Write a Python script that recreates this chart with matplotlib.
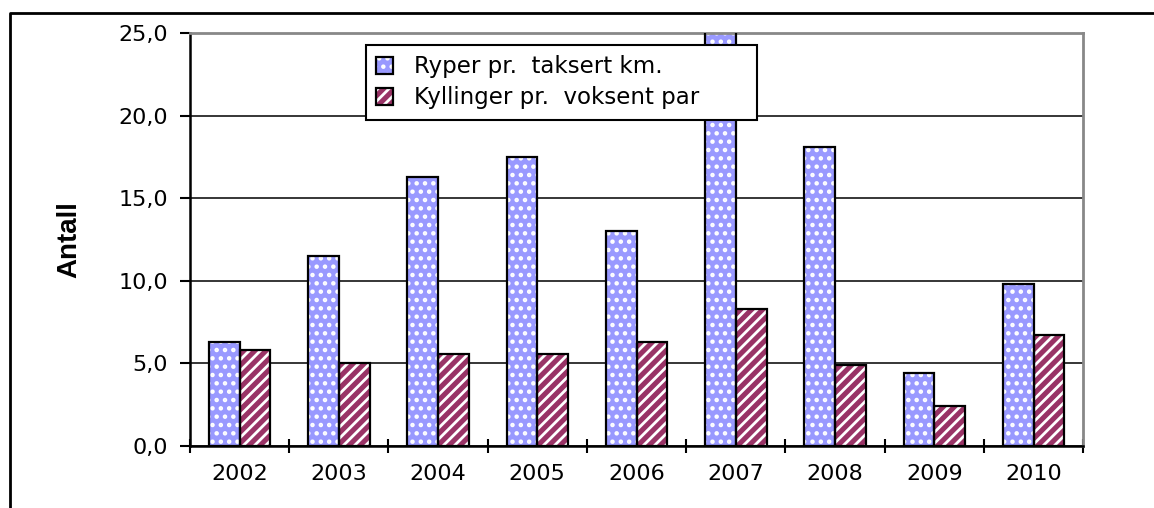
import matplotlib.pyplot as plt
import numpy as np
from matplotlib.lines import Line2D

# data
years = ['2002', '2003', '2004', '2005', '2006', '2007', '2008', '2009', '2010']
ryper = [6.3, 11.5, 16.3, 17.5, 13.0, 26.0, 18.1, 4.4, 9.8]
kyllinger = [5.8, 5.0, 5.6, 5.6, 6.3, 8.3, 4.9, 2.4, 6.7]
yticks = [0, 5, 10, 15, 20, 25]
ytick_labels = ['0,0', '5,0', '10,0', '15,0', '20,0', '25,0']
labels = ['Ryper pr.  taksert km.', 'Kyllinger pr.  voksent par']

plt.rcParams['font.family'] = ['DejaVu Sans']
plt.rcParams['hatch.linewidth'] = 2.0

fig = plt.figure(figsize=(11.54, 5.08), dpi=100)
ax = fig.add_axes([0.1646, 0.122, 0.774, 0.813])

x = np.arange(len(years))
w = 0.31
blue = '#9999FF'
maroon = '#993366'

# filled + hatched bars (white hatch), then black outline on top
b1 = ax.bar(x - w / 2, ryper, w, color=blue, edgecolor='white', hatch='..', linewidth=0, zorder=2)
b2 = ax.bar(x + w / 2, kyllinger, w, color=maroon, edgecolor='white', hatch='///', linewidth=0, zorder=2)
e1 = ax.bar(x - w / 2, ryper, w, fill=False, edgecolor='black', linewidth=1.6, zorder=3)
e2 = ax.bar(x + w / 2, kyllinger, w, fill=False, edgecolor='black', linewidth=1.6, zorder=3)

ax.set_xlim(-0.5, len(years) - 0.5)
ax.set_ylim(0, 25)
ax.set_yticks(yticks)
ax.set_yticklabels(ytick_labels)
ax.set_xticks(x)
ax.set_xticklabels(years)
ax.set_xticks(np.arange(len(years) + 1) - 0.5, minor=True)

ax.yaxis.grid(True, color='black', linewidth=1.1, zorder=0)
ax.set_axisbelow(True)

ax.tick_params(axis='y', direction='out', length=7, width=1.5, pad=9, labelsize=16)
ax.tick_params(axis='x', which='major', length=0, pad=13, labelsize=16)
ax.tick_params(axis='x', which='minor', direction='inout', length=10, width=1.5)

for s in ['left', 'bottom']:
    ax.spines[s].set_linewidth(1.8)
    ax.spines[s].set_color('black')
for s in ['top', 'right']:
    ax.spines[s].set_linewidth(2)
    ax.spines[s].set_color('#888888')

ax.set_ylabel('Antall', fontsize=20, fontweight='bold',
              family=['Liberation Sans Narrow', 'Liberation Sans'], labelpad=26)

leg = ax.legend([(b1[0], e1[0]), (b2[0], e2[0])], labels, loc='upper left',
                bbox_to_anchor=(0.197, 0.0, 0.438, 0.971), mode='expand',
                fontsize=16.5, frameon=True, fancybox=False,
                framealpha=1, edgecolor='black', handlelength=0.75, handleheight=0.75,
                handletextpad=0.9, borderpad=0.45, labelspacing=0.35, borderaxespad=0)
leg.get_frame().set_linewidth(1.5)
leg.set_zorder(5)

# outer chart border (cut at the right and bottom of the image)
x0 = 10 / 1154
y0 = 1 - 13 / 508
fig.add_artist(Line2D([x0, x0, 1.05], [-0.05, y0, y0], transform=fig.transFigure,
                      color='black', linewidth=2))

fig.savefig('out.png', dpi=100)
